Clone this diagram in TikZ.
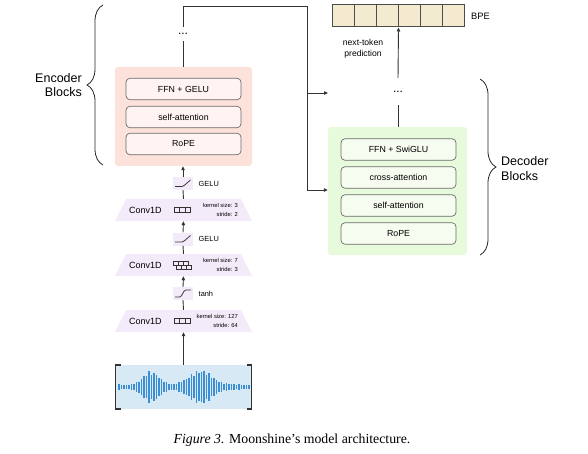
\documentclass[tikz,border=0pt]{standalone}
\usepackage{fontspec}
\setmainfont{Liberation Sans}
\newfontfamily\capfont{Liberation Serif}
\usetikzlibrary{arrows.meta,shapes.geometric,decorations.pathreplacing,calc}
\definecolor{encbg}{HTML}{FDE2DC}
\definecolor{encin}{HTML}{FFF4F2}
\definecolor{decbg}{HTML}{E8FADC}
\definecolor{decin}{HTML}{F6FDF0}
\definecolor{convbg}{HTML}{F4EBFA}
\definecolor{bpebg}{HTML}{F3EAD0}
\definecolor{wavebg}{HTML}{D6E9F5}
\definecolor{wavebl}{HTML}{3B8ED3}
\definecolor{linec}{HTML}{333333}
\definecolor{boxline}{HTML}{6A6A6A}
\begin{document}
\begin{tikzpicture}[x=1pt,y=-1pt,
  outerbox/.style={rounded corners=3pt, inner sep=0pt},
  encbox/.style={outerbox, fill=encbg, minimum width=137pt, minimum height=99pt},
  decbox/.style={outerbox, fill=decbg, minimum width=139pt, minimum height=128pt},
  inbox/.style={draw=boxline, line width=0.7pt, rounded corners=4pt, minimum width=115pt, minimum height=21.5pt, inner sep=0pt, font=\fontsize{8.8}{10}\selectfont},
  encinbox/.style={inbox, fill=encin},
  decinbox/.style={inbox, fill=decin},
  convbox/.style={rectangle, minimum width=137pt, minimum height=22pt, inner sep=0pt,
    path picture={\fill[convbg] (path picture bounding box.south west) -- (path picture bounding box.south east) -- ([xshift=-11pt]path picture bounding box.north east) -- ([xshift=11pt]path picture bounding box.north west) -- cycle;}},
  actbox/.style={fill=convbg, minimum width=20pt, minimum height=13pt, inner sep=0pt},
  convtxt/.style={font=\fontsize{9}{10}\selectfont, anchor=west, inner sep=0pt},
  kertxt/.style={font=\fontsize{5.8}{8.5}\selectfont, align=right, anchor=east, inner sep=0pt},
  acttxt/.style={font=\fontsize{7.4}{9}\selectfont, anchor=west, inner sep=0pt},
  blocktxt/.style={font=\fontsize{12.5}{14.5}\selectfont, inner sep=0pt},
  conn/.style={draw=linec, line width=0.9pt},
  arr/.style={conn, -{Triangle[length=4pt,width=3.4pt]}},
  kern/.style={draw=linec, line width=0.8pt},
  brc/.style={draw=black!85, line width=0.8pt, decorate, decoration={brace, amplitude=16pt}},
  wavebar/.style={draw=wavebl, line width=1.1pt},
  bpecell/.style={draw=black!70, line width=1pt, fill=bpebg, minimum width=22pt, minimum height=22pt, inner sep=0pt}
]
\useasboundingbox (0,0) rectangle (588,454);

% ---------------- waveform ----------------
\node[fill=wavebg, minimum width=137pt, minimum height=44pt, inner sep=0pt] (wave) at (183.5,387) {};
\foreach \i in {0,...,52} {
  \pgfmathsetmacro\xx{119+\i*2.5}
  \pgfmathsetmacro\hh{(2.6+13.5*exp(-min(((\xx-151)/11)^2,9))+14.5*exp(-min(((\xx-201)/16)^2,9)))*(0.88+0.12*cos(\i*150))}
  \draw[wavebar] (\xx,387-\hh) -- (\xx,387+\hh);
}
\draw[draw=black!80, line width=1.3pt] (120.5,365) -- (115.5,365) -- (115.5,409) -- (120.5,409);
\draw[draw=black!80, line width=1.3pt] (246.5,365) -- (251.5,365) -- (251.5,409) -- (246.5,409);

% ---------------- conv stack ----------------
\node[convbox] (conv3) at (183.5,321) {};
\node[convbox] (conv2) at (183.5,265) {};
\node[convbox] (conv1) at (183.5,210) {};
\node[convtxt] (c3t) at (129,321) {Conv1D};
\node[convtxt] (c2t) at (129,265) {Conv1D};
\node[convtxt] (c1t) at (129,210) {Conv1D};
\node[kertxt] (k3) at (238,321) {kernel size: 127\\stride: 64};
\node[kertxt] (k2) at (238,265) {kernel size: 7\\stride: 3};
\node[kertxt] (k1) at (238,210) {kernel size: 3\\stride: 2};
% kernel icons
\foreach \k in {0,1,2} {
  \draw[kern] (174.5+\k*5.3,207.5) rectangle ++(5.3,5);
  \draw[kern] (174.5+\k*5.3,318.5) rectangle ++(5.3,5);
  \draw[kern] (173+\k*5,261.5) rectangle ++(5,4);
  \draw[kern] (176.5+\k*5,265) rectangle ++(5,4.5);
}

% activation boxes
\node[actbox] (act3) at (183,293.5) {};
\node[actbox] (act2) at (183,239) {};
\node[actbox] (act1) at (183,183.5) {};
\node[acttxt] (a3t) at (198.5,293.5) {tanh};
\node[acttxt] (a2t) at (198.5,239) {GELU};
\node[acttxt] (a1t) at (198.5,183.5) {GELU};
\draw[kern, line width=0.75pt] (175,186.5) -- (182,186.5) .. controls (183.5,186.5) and (184,185.5) .. (190.5,180);
\draw[kern, line width=0.75pt] (175,242) -- (182,242) .. controls (183.5,242) and (184,241) .. (190.5,235.5);
\draw[kern, line width=0.75pt] (175,297) -- (179.5,297) .. controls (182.5,297) and (183,290) .. (186,290) -- (191,290);

% ---------------- encoder block ----------------
\node[encbox] (enc) at (183.5,116.5) {};
\node[encinbox] (effn) at (183.5,89) {FFN + GELU};
\node[encinbox] (esa) at (183.5,117) {self-attention};
\node[encinbox] (erope) at (183.5,144) {RoPE};
\node[blocktxt, align=right, anchor=east] (enclbl) at (82,85) {Encoder\\Blocks};
\draw[brc] (103,165) -- (103,5);

\node[font=\fontsize{12}{12}\selectfont, inner xsep=1pt, inner ysep=6.5pt] (encdots) at (183,34) {...};

% ---------------- decoder block ----------------
\node[decbox] (dec) at (397.5,191) {};
\node[decinbox] (dffn) at (398.5,149.5) {FFN + SwiGLU};
\node[decinbox] (dca) at (398.5,177.5) {cross-attention};
\node[decinbox] (dsa) at (398.5,205.5) {self-attention};
\node[decinbox] (drope) at (398.5,233.5) {RoPE};
\node[blocktxt, align=left, anchor=west] (declbl) at (501,168.5) {Decoder\\Blocks};
\draw[brc] (480,79) -- (480,255);

\node[font=\fontsize{12}{12}\selectfont, inner xsep=1pt, inner ysep=12.5pt] (decdots) at (398,91.5) {...};

% ---------------- BPE ----------------
\foreach \c in {0,...,5} {
  \node[bpecell] (bpe\c) at (343+\c*22,16) {};
}
\node[font=\fontsize{9.3}{11}\selectfont, anchor=west, inner sep=0pt] (bpelbl) at (471,16) {BPE};
\node[font=\fontsize{8.6}{10.5}\selectfont, align=center, inner sep=0pt] (ntp) at (363,49) {next-token\\prediction};

% ---------------- connectors ----------------
\draw[arr] (wave.north) -- (conv3.south);
\draw[conn] (conv3.north) -- (act3.south);
\draw[arr] (act3.north) -- (conv2.south);
\draw[conn] (conv2.north) -- (act2.south);
\draw[arr] (act2.north) -- (conv1.south);
\draw[conn] (conv1.north) -- (act1.south);
\draw[arr] (act1.north) -- (enc.south -| act1.north);
\draw[conn] (enc.north -| encdots.south) -- (encdots.south);

\coordinate (tl) at (183,6);
\coordinate (tr) at (307,6);
\coordinate (br) at (307,190);
\coordinate (mr) at (307,93);
\coordinate (decinp) at (328,93);
\draw[conn] (encdots.north) -- (tl) -- (tr) -- (br);
\draw[arr] (br) -- (dec.west |- br);
\draw[arr] (mr) -- (decinp);

\draw[conn] (dec.north -| decdots.south) -- (decdots.south);
\draw[arr] (decdots.north) -- (bpe2.south east);

% ---------------- caption ----------------
\node[font=\capfont\fontsize{13.8}{15}\selectfont, inner sep=0pt] (cap) at (292,440) {\textit{Figure 3.} Moonshine’s model architecture.};
\end{tikzpicture}
\end{document}
